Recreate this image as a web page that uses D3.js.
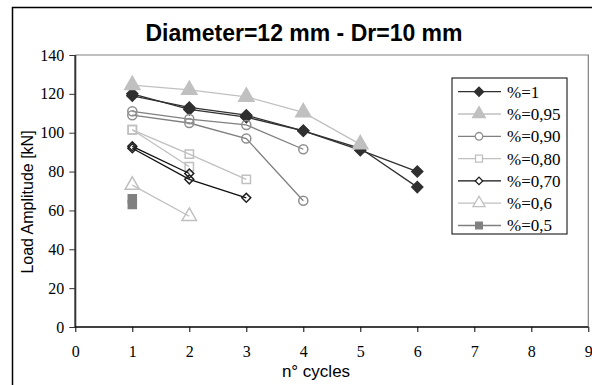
<!DOCTYPE html>
<html><head><meta charset="utf-8">
<script src="https://cdn.jsdelivr.net/npm/d3@7"></script>
<style>html,body{margin:0;padding:0;background:#fff;}svg{display:block;}</style>
</head><body>
<script>
// ---- data ----
const title = "Diameter=12 mm - Dr=10 mm";
const xLabel = "n° cycles";
const yLabel = "Load Amplitude [kN]";
const xTicks = [0,1,2,3,4,5,6,7,8,9];
const yTicks = [0,20,40,60,80,100,120,140];
const seriesNames = ["%=1","%=0,95","%=0,90","%=0,80","%=0,70","%=0,6","%=0,5"];
// each series: list of runs (values at cycles 1..n)
const s100 = [[119,113,109,101,91,80],[120,112,108,101,92,72]];
const s095 = [[124.5,122,118.5,110.5,94]];
const s090 = [[111,107,104,91.5],[109,105,97,65]];
const s080 = [[101.5,89,76],[101.5,82.5]];
const s070 = [[93,79],[92,76,66.5]];
const s060 = [[73,57]];
const s050 = [[66],[63]];
const seriesRuns = [s100,s095,s090,s080,s070,s060,s050];

const styles = [
  {line:"#303030", marker:"diamond", fill:"#303030", stroke:"#303030", size:60},
  {line:"#c0c0c0", marker:"triangle", fill:"#c0c0c0", stroke:"#c0c0c0", size:100},
  {line:"#808080", marker:"circle", fill:"none", stroke:"#909090", size:65},
  {line:"#c0c0c0", marker:"square", fill:"none", stroke:"#c0c0c0", size:70},
  {line:"#101010", marker:"diamond", fill:"none", stroke:"#202020", size:40},
  {line:"#c0c0c0", marker:"triangle", fill:"none", stroke:"#c0c0c0", size:90},
  {line:"#808080", marker:"square", fill:"#808080", stroke:"#808080", size:64}
];
const symMap = {diamond:d3.symbolSquare, triangle:d3.symbolTriangle, circle:d3.symbolCircle, square:d3.symbolSquare};
const rotMap = {diamond:45, triangle:0, circle:0, square:0};
const SERIF = "'Liberation Serif'";
const SANS = "'Liberation Sans'";

const W=592,H=385;
const svg=d3.select("body").append("svg").attr("width",W).attr("height",H)
  .style("font-family",SERIF).style("font-size","16px");
svg.append("rect").attr("width",W).attr("height",H).attr("fill","#fff");
// outer frame
svg.append("rect").attr("x",12.5).attr("y",7.5).attr("width",700).attr("height",500)
  .attr("fill","none").attr("stroke","#000").attr("stroke-width",1.5);

const L=75.3,R=588.3,T=55,B=327;
const x=d3.scaleLinear().domain([0,9]).range([L,R]);
const y=d3.scaleLinear().domain([0,140]).range([B,T]);

// plot border (gray) top/right
svg.append("path").attr("d",`M${L},${T}H${R}V${B}`).attr("fill","none").attr("stroke","#808080").attr("stroke-width",1.2);

// axes
const yAxis=d3.axisLeft(y).tickValues(yTicks).tickSize(6).tickPadding(5).tickFormat(d3.format("d"));
const gy=svg.append("g").attr("transform",`translate(${L},0)`).call(yAxis)
  .attr("font-family",null).attr("font-size",null);
gy.select(".domain").attr("stroke","#333").attr("stroke-width",2).attr("d",`M0,${T}V${B}`);
gy.selectAll(".tick line").attr("stroke","#333");
gy.selectAll("text").style("font-family",SERIF).style("font-size","16px").attr("fill","#000");

const xAxis=d3.axisBottom(x).tickValues(xTicks).tickSize(5).tickPadding(14).tickFormat(d3.format("d"));
const gx=svg.append("g").attr("transform",`translate(0,${B})`).call(xAxis)
  .attr("font-family",null).attr("font-size",null);
gx.select(".domain").attr("stroke","#000").attr("stroke-width",1.5).attr("d",`M${L},0H${R}`);
gx.selectAll(".tick line").attr("stroke","#000");
gx.selectAll("text").style("font-family",SERIF).style("font-size","16px").attr("fill","#000");

// series
const line=d3.line().x((d,i)=>x(i+1)).y(d=>y(d));
seriesRuns.forEach((runs,si)=>{
  const st=styles[si];
  const g=svg.append("g");
  runs.forEach(run=>{
    if(run.length>1) g.append("path").attr("d",line(run)).attr("fill","none").attr("stroke",st.line).attr("stroke-width",1.3);
  });
  runs.forEach(run=>{
    run.forEach((v,i)=>{
      g.append("path").attr("d",d3.symbol(symMap[st.marker],st.size)())
        .attr("transform",`translate(${x(i+1)},${y(v)}) rotate(${rotMap[st.marker]})`)
        .attr("fill",st.fill==="none"?"#fff":st.fill).attr("fill-opacity",st.fill==="none"?0:1)
        .attr("stroke",st.stroke).attr("stroke-width",1.5);
    });
  });
});

// legend
const lg=svg.append("g");
lg.append("rect").attr("x",452).attr("y",78).attr("width",115).attr("height",156)
  .attr("fill","#fff").attr("stroke","#000").attr("stroke-width",1);
seriesNames.forEach((nm,i)=>{
  const st=styles[i];
  const cy=91.7+22.3*i;
  lg.append("line").attr("x1",458).attr("x2",501).attr("y1",cy).attr("y2",cy).attr("stroke",st.line).attr("stroke-width",1.3);
  lg.append("path").attr("d",d3.symbol(symMap[st.marker],st.size*0.7)())
    .attr("transform",`translate(479,${cy}) rotate(${rotMap[st.marker]})`)
    .attr("fill",st.fill==="none"?"#fff":st.fill)
    .attr("stroke",st.stroke).attr("stroke-width",1.3);
  lg.append("text").attr("x",507).attr("y",cy).attr("dy","0.35em")
    .style("font-family",SERIF).style("font-size","17px").text(nm);
});

// title and axis labels (sans)
svg.append("text").attr("x",304).attr("y",41).attr("text-anchor","middle")
  .style("font-family",SANS).style("font-weight","bold").style("font-size","23px").text(title);
svg.append("text").attr("x",316).attr("y",377).attr("text-anchor","middle")
  .style("font-family",SANS).style("font-size","17px").text(xLabel);
svg.append("text").attr("transform","translate(33,202) rotate(-90)").attr("text-anchor","middle")
  .style("font-family",SANS).style("font-size","16px").text(yLabel);
</script>
</body></html>
